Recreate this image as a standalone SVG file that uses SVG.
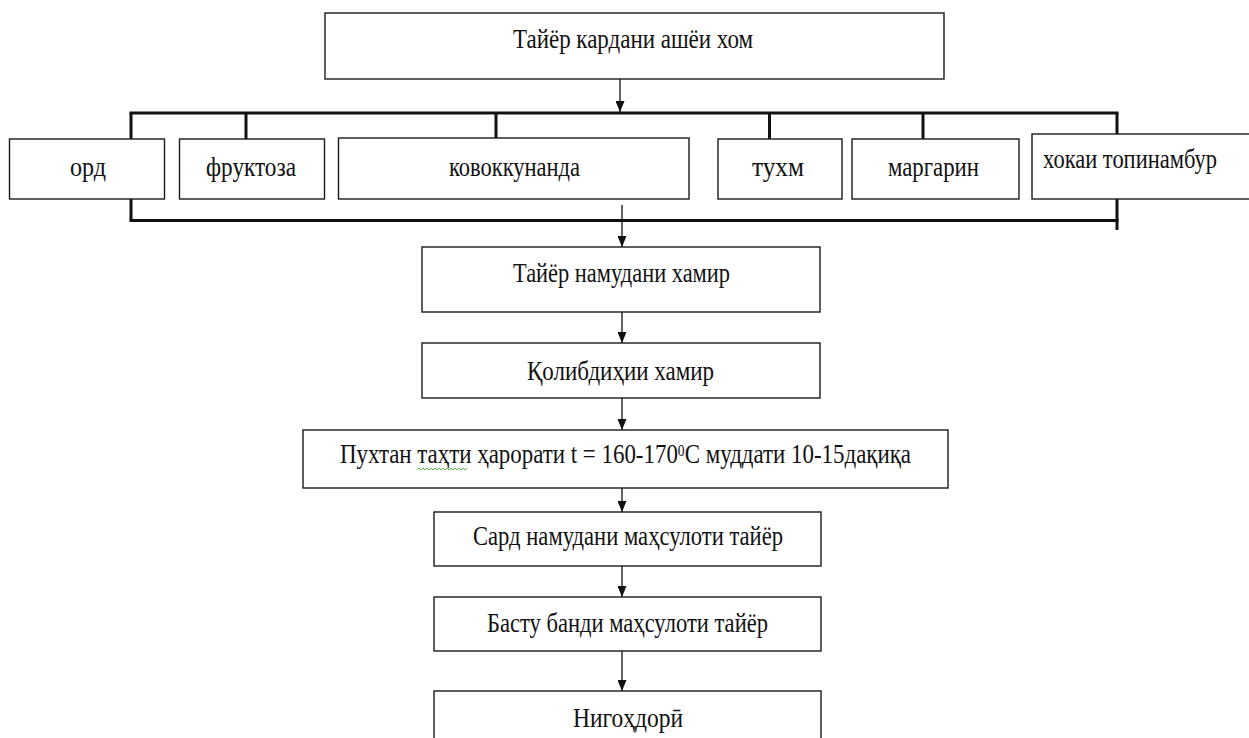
<svg xmlns="http://www.w3.org/2000/svg" width="1249" height="738" viewBox="0 0 1249 738">
<style>
  .box { fill: #ffffff; stroke: #1a1a1a; stroke-width: 1.4; }
  .lbl { font-family: 'Liberation Serif', 'Times New Roman', 'DejaVu Serif', serif; font-size: 27px; fill: #111111; }
  .bus { stroke: #111111; stroke-width: 3; fill: none; }
  .arr { stroke: #111111; stroke-width: 1.3; fill: none; marker-end: url(#ah); }
</style>
<defs>
  <marker id="ah" viewBox="0 0 11 9" refX="11" refY="4.5" markerWidth="11" markerHeight="9" markerUnits="userSpaceOnUse" orient="auto">
    <path d="M0,0 L11,4.5 L0,9 Z" fill="#111111"/>
  </marker>
</defs>
<rect width="1249" height="738" fill="#ffffff"/>

<g id="connectors">
  <line class="arr" x1="620" y1="79" x2="620" y2="112"/>
  <line class="bus" x1="129.5" y1="113" x2="1118.5" y2="113"/>
  <line class="bus" x1="131" y1="113" x2="131" y2="139"/>
  <line class="bus" x1="246" y1="113" x2="246" y2="139"/>
  <line class="bus" x1="496" y1="113" x2="496" y2="138"/>
  <line class="bus" x1="769.5" y1="113" x2="769.5" y2="139"/>
  <line class="bus" x1="923" y1="113" x2="923" y2="139"/>
  <line class="bus" x1="1117" y1="113" x2="1117" y2="139"/>
  <line class="bus" x1="131" y1="192" x2="131" y2="220.5"/>
  <line class="bus" x1="1117" y1="199" x2="1117" y2="230"/>
  <line class="bus" x1="129.5" y1="220.5" x2="1118.5" y2="220.5"/>
  <line class="arr" x1="622" y1="205" x2="622" y2="247"/>
  <line class="arr" x1="622" y1="312" x2="622" y2="343"/>
  <line class="arr" x1="622" y1="398" x2="622" y2="430"/>
  <line class="arr" x1="622" y1="488" x2="622" y2="512"/>
  <line class="arr" x1="622" y1="566" x2="622" y2="597"/>
  <line class="arr" x1="622" y1="651" x2="622" y2="691"/>
</g>

<g id="n-top">
  <rect class="box" x="325" y="13" width="619" height="66"/>
  <text class="lbl" x="513" y="48" textLength="240" lengthAdjust="spacingAndGlyphs">Тайёр кардани ашёи хом</text>
</g>
<g id="n-ord">
  <rect class="box" x="9.5" y="139" width="155" height="60"/>
  <text class="lbl" x="70" y="176" textLength="36" lengthAdjust="spacingAndGlyphs">орд</text>
</g>
<g id="n-fruktoza">
  <rect class="box" x="179.5" y="139" width="145" height="60"/>
  <text class="lbl" x="206" y="176" textLength="90" lengthAdjust="spacingAndGlyphs">фруктоза</text>
</g>
<g id="n-kovokkunanda">
  <rect class="box" x="338.5" y="138" width="350.5" height="61"/>
  <text class="lbl" x="449" y="176" textLength="131" lengthAdjust="spacingAndGlyphs">ковоккунанда</text>
</g>
<g id="n-tuxm">
  <rect class="box" x="718" y="139" width="124" height="60"/>
  <text class="lbl" x="752" y="176" textLength="52" lengthAdjust="spacingAndGlyphs">тухм</text>
</g>
<g id="n-margarin">
  <rect class="box" x="852" y="139" width="167" height="60"/>
  <text class="lbl" x="888" y="176" textLength="91" lengthAdjust="spacingAndGlyphs">маргарин</text>
</g>
<g id="n-topinambur">
  <rect class="box" x="1032" y="134" width="217.8" height="65"/>
  <text class="lbl" x="1043" y="168" textLength="174" lengthAdjust="spacingAndGlyphs">хокаи топинамбур</text>
</g>
<g id="n-xamir">
  <rect class="box" x="422" y="247" width="398" height="65"/>
  <text class="lbl" x="513" y="282" textLength="217" lengthAdjust="spacingAndGlyphs">Тайёр намудани хамир</text>
</g>
<g id="n-qolib">
  <rect class="box" x="422" y="343" width="398" height="55"/>
  <text class="lbl" x="527" y="380" textLength="187" lengthAdjust="spacingAndGlyphs">Қолибдиҳии хамир</text>
</g>
<g id="n-puxtan">
  <rect class="box" x="303" y="430" width="645" height="58"/>
  <text class="lbl" x="340" y="463" textLength="571" lengthAdjust="spacingAndGlyphs">Пухтан таҳти ҳарорати t = 160-170<tspan dy="-7" font-size="16">0</tspan><tspan dy="7">C муддати 10-15дақиқа</tspan></text>
  <path d="M417,470 l2,-2 l2,2 l2,-2 l2,2 l2,-2 l2,2 l2,-2 l2,2 l2,-2 l2,2 l2,-2 l2,2 l2,-2 l2,2 l2,-2 l2,2 l2,-2 l2,2 l2,-2 l2,2 l2,-2 l2,2 l2,-2 l2,2 l2,-2" fill="none" stroke="#5fb04a" stroke-width="1"/>
</g>
<g id="n-sard">
  <rect class="box" x="434" y="512" width="387" height="54"/>
  <text class="lbl" x="473" y="545" textLength="310" lengthAdjust="spacingAndGlyphs">Сард намудани маҳсулоти тайёр</text>
</g>
<g id="n-bastu">
  <rect class="box" x="434" y="597" width="387" height="54"/>
  <text class="lbl" x="487" y="632" textLength="281" lengthAdjust="spacingAndGlyphs">Басту банди маҳсулоти тайёр</text>
</g>
<g id="n-nigoh">
  <rect class="box" x="434" y="691" width="387" height="60"/>
  <text class="lbl" x="573" y="727" textLength="110" lengthAdjust="spacingAndGlyphs">Нигоҳдорӣ</text>
</g>
</svg>
